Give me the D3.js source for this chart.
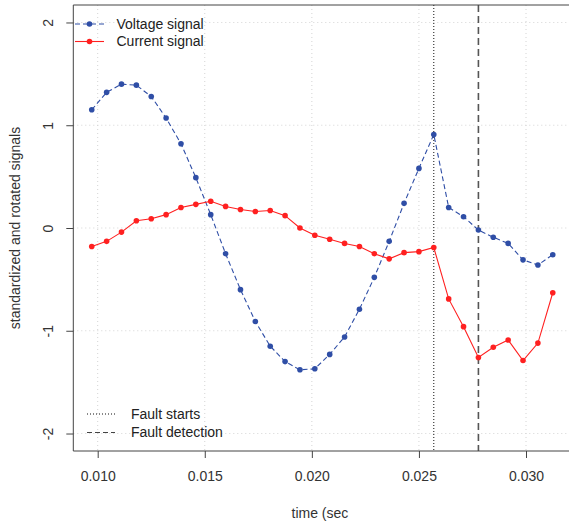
<!DOCTYPE html>
<html>
<head>
<meta charset="utf-8">
<script src="https://cdn.jsdelivr.net/npm/d3@7"></script>
<style>
  html, body { margin: 0; padding: 0; background: #fff; }
  svg { display: block; font-family: "Liberation Sans", Arial, sans-serif; }
</style>
</head>
<body>
<div id="chart"></div>
<script>
// ---- Data ----
const time = [0.009722, 0.010417, 0.011111, 0.011806, 0.012500, 0.013194, 0.013889, 0.014583,
              0.015278, 0.015972, 0.016667, 0.017361, 0.018056, 0.018750, 0.019444, 0.020139,
              0.020833, 0.021528, 0.022222, 0.022917, 0.023611, 0.024306, 0.025000, 0.025694,
              0.026389, 0.027083, 0.027778, 0.028472, 0.029167, 0.029861, 0.030556, 0.031250];
const voltage = [1.15, 1.32, 1.40, 1.39, 1.28, 1.07, 0.82, 0.49,
                 0.13, -0.25, -0.60, -0.91, -1.15, -1.30, -1.38, -1.37,
                 -1.23, -1.06, -0.79, -0.48, -0.13, 0.24, 0.58, 0.91,
                 0.20, 0.11, -0.02, -0.09, -0.15, -0.31, -0.36, -0.26];
const current = [-0.18, -0.13, -0.04, 0.07, 0.09, 0.13, 0.20, 0.23,
                 0.26, 0.21, 0.18, 0.16, 0.17, 0.12, 0.00, -0.07,
                 -0.11, -0.15, -0.18, -0.25, -0.30, -0.24, -0.23, -0.19,
                 -0.69, -0.96, -1.26, -1.16, -1.09, -1.29, -1.12, -0.63];
const faultStart = 0.025694;
const faultDetection = 0.027778;
const xTicks = [0.010, 0.015, 0.020, 0.025, 0.030];
const xTickLabels = ["0.010", "0.015", "0.020", "0.025", "0.030"];
const yTicks = [-2, -1, 0, 1, 2];
const yTickLabels = ["-2", "-1", "0", "1", "2"];
const seriesNames = ["Voltage signal", "Current signal"];
const lineNames = ["Fault starts", "Fault detection"];

(function () {
// ---- Layout ----
const W = 569, H = 523;
const BLUE = "#2f4ea6", RED = "#ff2020";
const x = d3.scaleLinear().domain([0.010, 0.030]).range([97.7, 526]);
const y = d3.scaleLinear().domain([-2.17, 2.17]).range([451, 5]);
const xMin = d3.min(time), xMax = d3.max(time), pad = 0.04 * (xMax - xMin);
const pL = x(xMin - pad), pR = x(xMax + pad);
const pT = y(2.17), pB = y(-2.17);

const svg = d3.select("#chart").append("svg").attr("width", W).attr("height", H);

// grid
const grid = svg.append("g").attr("stroke", "#d4d4d4").attr("stroke-width", 1).attr("stroke-dasharray", "1,3");
grid.selectAll("line.vx").data(xTicks).join("line").attr("class", "vx")
  .attr("x1", d => x(d)).attr("x2", d => x(d)).attr("y1", pT).attr("y2", pB);
grid.selectAll("line.hy").data(yTicks).join("line").attr("class", "hy")
  .attr("x1", pL).attr("x2", pR).attr("y1", d => y(d)).attr("y2", d => y(d));

// fault lines
svg.append("line").attr("x1", x(faultStart)).attr("x2", x(faultStart)).attr("y1", pT).attr("y2", pB)
  .attr("stroke", "#111").attr("stroke-width", 1).attr("stroke-dasharray", "1,2");
svg.append("line").attr("x1", x(faultDetection)).attr("x2", x(faultDetection)).attr("y1", pT).attr("y2", pB)
  .attr("stroke", "#555").attr("stroke-width", 1.6).attr("stroke-dasharray", "7,4");

// series
const idx = d3.range(time.length);
const lineV = d3.line().x(i => x(time[i])).y(i => y(voltage[i]));
const lineC = d3.line().x(i => x(time[i])).y(i => y(current[i]));
svg.append("path").attr("d", lineV(idx)).attr("fill", "none").attr("stroke", BLUE).attr("stroke-width", 1.1).attr("stroke-dasharray", "5,3");
svg.append("path").attr("d", lineC(idx)).attr("fill", "none").attr("stroke", RED).attr("stroke-width", 1.1);
svg.append("g").selectAll("circle").data(idx).join("circle")
  .attr("cx", i => x(time[i])).attr("cy", i => y(voltage[i])).attr("r", 2.8).attr("fill", BLUE);
svg.append("g").selectAll("circle").data(idx).join("circle")
  .attr("cx", i => x(time[i])).attr("cy", i => y(current[i])).attr("r", 2.8).attr("fill", RED);

// box
svg.append("path").attr("d", `M${pR},${pT}H${pL}V${pB}H${pR}`)
  .attr("fill", "none").attr("stroke", "#444").attr("stroke-width", 1);

// axes
const xAxis = d3.axisBottom(x).tickValues(xTicks).tickFormat((d, i) => xTickLabels[i]).tickSize(7).tickPadding(13);
const gx = svg.append("g").attr("transform", `translate(0,${pB})`).call(xAxis);
gx.select(".domain").remove();
gx.selectAll("line").attr("stroke", "#444");
gx.selectAll("text").attr("font-size", 14).attr("fill", "#333").attr("font-family", "Liberation Sans, Arial, sans-serif");

const yAxis = d3.axisLeft(y).tickValues(yTicks).tickFormat((d, i) => yTickLabels[i]).tickSize(7);
const gy = svg.append("g").attr("transform", `translate(${pL},0)`).call(yAxis);
gy.select(".domain").remove();
gy.selectAll("line").attr("stroke", "#444");
gy.selectAll("text").remove();
gy.selectAll("g.tick").append("text")
  .attr("transform", "translate(-25,0) rotate(-90)")
  .attr("text-anchor", "middle").attr("dy", "0.35em")
  .attr("font-size", 14).attr("fill", "#333").attr("font-family", "Liberation Sans, Arial, sans-serif")
  .text((d, i) => yTickLabels[i]);

// axis titles
svg.append("text").attr("x", 291.5).attr("y", 518).attr("font-size", 14).attr("fill", "#333").text("time (sec");
svg.append("text").attr("transform", `translate(20,${(pT + pB) / 2}) rotate(-90)`)
  .attr("text-anchor", "middle").attr("font-size", 14).attr("fill", "#333").text("standardized and rotated signals");

// top legend
const leg = svg.append("g");
const legY = [24, 41.5];
leg.append("line").attr("x1", 75).attr("x2", 104).attr("y1", legY[0]).attr("y2", legY[0])
  .attr("stroke", BLUE).attr("stroke-width", 1.1).attr("stroke-dasharray", "5,3");
leg.append("circle").attr("cx", 89.5).attr("cy", legY[0]).attr("r", 2.8).attr("fill", BLUE);
leg.append("line").attr("x1", 75).attr("x2", 104).attr("y1", legY[1]).attr("y2", legY[1])
  .attr("stroke", RED).attr("stroke-width", 1.1);
leg.append("circle").attr("cx", 89.5).attr("cy", legY[1]).attr("r", 2.8).attr("fill", RED);
leg.selectAll("text").data(seriesNames).join("text")
  .attr("x", 116.5).attr("y", (d, i) => legY[i]).attr("dy", "0.35em")
  .attr("font-size", 14).attr("fill", "#222").text(d => d);

// bottom legend
const leg2 = svg.append("g");
const leg2Y = [414, 432.5];
leg2.append("line").attr("x1", 87).attr("x2", 115).attr("y1", leg2Y[0]).attr("y2", leg2Y[0])
  .attr("stroke", "#111").attr("stroke-width", 1).attr("stroke-dasharray", "1,2");
leg2.append("line").attr("x1", 87).attr("x2", 115).attr("y1", leg2Y[1]).attr("y2", leg2Y[1])
  .attr("stroke", "#444").attr("stroke-width", 1.1).attr("stroke-dasharray", "5,3");
leg2.selectAll("text").data(lineNames).join("text")
  .attr("x", 131).attr("y", (d, i) => leg2Y[i]).attr("dy", "0.35em")
  .attr("font-size", 14).attr("fill", "#222").text(d => d);
})();
</script>
</body>
</html>
